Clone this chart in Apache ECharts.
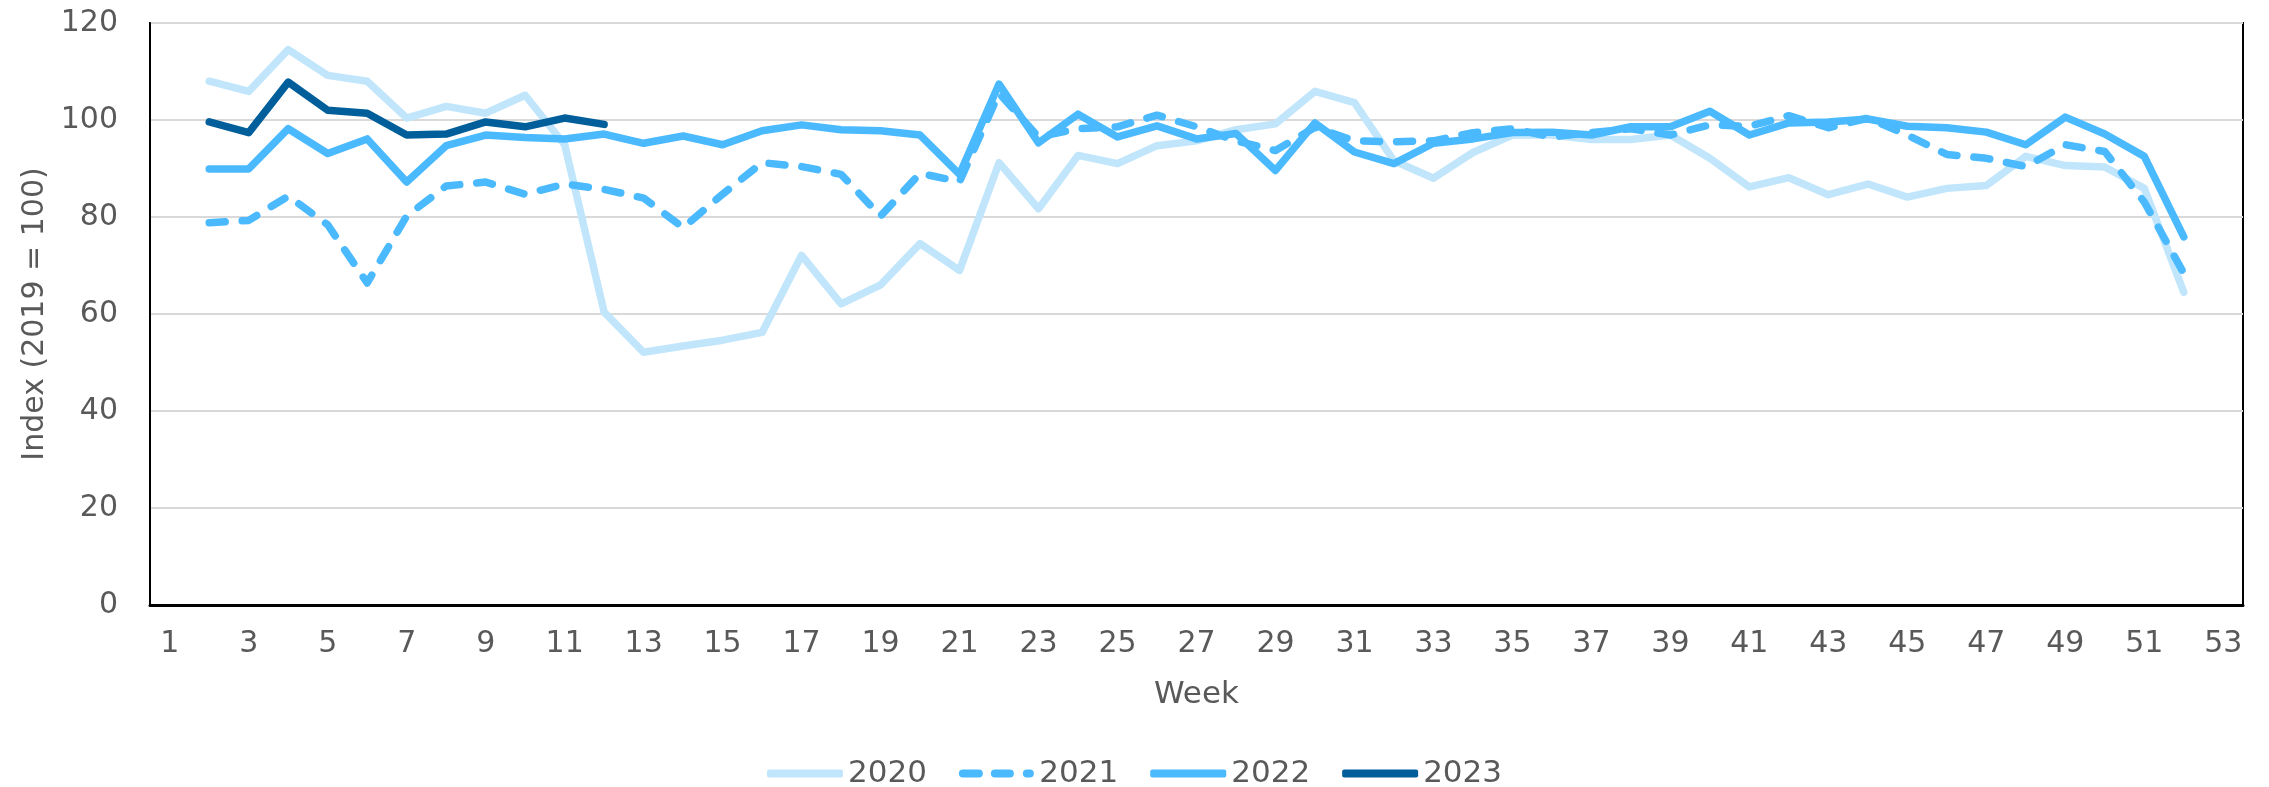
<!DOCTYPE html>
<html>
<head>
<meta charset="utf-8">
<style>
  html, body { margin: 0; padding: 0; background: #fff; }
  #main { width: 2269px; height: 787px; }
</style>
<script src="https://cdn.jsdelivr.net/npm/echarts@6/dist/echarts.min.js"></script>
</head>
<body>
<div id="main"></div>
<script>
// weeks 1..53 on the axis, series start at week 2
var weeks = [];
for (var w = 1; w <= 53; w++) weeks.push(String(w));

var y2020 = [null, 108.0, 105.9, 114.5, 109.2, 108.0, 100.4, 102.8, 101.4, 105.1, 94.9,
  60.4, 52.1, 53.4, 54.6, 56.2, 72.1, 62.1, 66.0, 74.5, 69.0,
  91.2, 81.7, 92.7, 91.0, 94.7, 95.7, 98.0, 99.2, 105.9, 103.6,
  91.6, 88.0, 93.3, 96.9, 96.9, 96.0, 96.0, 96.9, 92.1, 86.2,
  88.1, 84.6, 86.8, 84.1, 85.9, 86.5, 92.5, 90.6, 90.3, 85.9,
  64.5, null];

var y2021 = [null, 78.8, 79.3, 84.3, 78.4, 66.4, 80.2, 86.4, 87.2, 84.7, 86.8,
  85.7, 83.9, 77.8, 84.7, 91.2, 90.4, 88.8, 80.2, 89.0, 87.3,
  105.5, 96.5, 98.2, 98.6, 101.0, 98.6, 95.7, 93.7, 98.5, 95.7,
  95.5, 95.7, 97.4, 98.2, 96.5, 97.4, 98.2, 96.9, 99.0, 98.7,
  100.9, 98.4, 100.4, 96.9, 92.9, 92.1, 90.4, 94.9, 93.5, 83.1,
  68.4, null];

var y2022 = [null, 89.9, 89.9, 98.2, 93.1, 96.1, 87.2, 94.7, 96.9, 96.4, 96.1,
  97.1, 95.2, 96.7, 94.9, 97.8, 99.0, 98.0, 97.8, 96.9, 88.8,
  107.4, 95.3, 101.2, 96.5, 98.8, 96.1, 97.2, 89.6, 99.4, 93.4,
  91.0, 95.2, 96.1, 97.4, 97.5, 96.9, 98.6, 98.6, 101.8, 96.9,
  99.4, 99.6, 100.2, 98.7, 98.4, 97.5, 94.9, 100.6, 97.1, 92.5,
  75.9, null];

var y2023 = [null, 99.6, 97.4, 107.8, 102.0, 101.4, 96.9, 97.1, 99.6, 98.6, 100.4,
  99.1];

var dom = document.getElementById('main');
var myChart = echarts.init(dom, null, {
  renderer: 'canvas',
  useDirtyRect: false
});

var textColor = '#595959';
var font = 'DejaVu Sans';
var dashIcon = 'path://M4,0h16a4,4 0 0 1 0,8h-16a4,4 0 0 1 0,-8z' +
  'M36,0h15a4,4 0 0 1 0,8h-15a4,4 0 0 1 0,-8z' +
  'M68,0h3a4,4 0 0 1 0,8h-3a4,4 0 0 1 0,-8z';

var option;

option = {
  animation: false,
  textStyle: { fontFamily: font, color: textColor },
  grid: {
    left: 150,
    right: 26,
    top: 23,
    bottom: 182,
    show: true,
    borderColor: '#000',
    borderWidth: 2
  },
  legend: {
    left: 'center',
    top: 753,
    itemWidth: 76,
    itemHeight: 8,
    itemGap: 32,
    textStyle: { fontSize: 31, color: textColor, fontFamily: font },
    data: [
      { name: '2020', icon: 'roundRect' },
      { name: '2021', icon: dashIcon },
      { name: '2022', icon: 'roundRect' },
      { name: '2023', icon: 'roundRect' }
    ]
  },
  xAxis: {
    type: 'category',
    data: weeks,
    name: 'Week',
    nameLocation: 'middle',
    nameGap: 74,
    nameTextStyle: { fontSize: 31, color: textColor },
    axisLine: { lineStyle: { color: '#000', width: 3 } },
    axisTick: { interval: 0, length: 10, lineStyle: { color: '#000', width: 2 } },
    axisLabel: { interval: 1, fontSize: 30, color: textColor, margin: 24 },
    splitLine: { show: false }
  },
  yAxis: {
    type: 'value',
    min: 0,
    max: 120,
    interval: 20,
    name: 'Index (2019 = 100)',
    nameLocation: 'middle',
    nameGap: 100,
    nameTextStyle: { fontSize: 30, color: textColor },
    axisLine: { show: true, lineStyle: { color: '#000', width: 2 } },
    axisTick: { show: false },
    axisLabel: { fontSize: 30, color: textColor, margin: 32 },
    splitLine: { lineStyle: { color: '#D9D9D9', width: 2 } }
  },
  series: [
    {
      name: '2020',
      type: 'line',
      data: y2020,
      symbol: 'none',
      color: '#C1E6FC',
      lineStyle: { width: 7.5, color: '#C1E6FC', cap: 'round', join: 'round' }
    },
    {
      name: '2021',
      type: 'line',
      data: y2021,
      symbol: 'none',
      color: '#4AB9FE',
      lineStyle: { width: 7.5, color: '#4AB9FE', type: [16, 17], cap: 'round', join: 'round' }
    },
    {
      name: '2022',
      type: 'line',
      data: y2022,
      symbol: 'none',
      color: '#4AB9FE',
      lineStyle: { width: 7.5, color: '#4AB9FE', cap: 'round', join: 'round' }
    },
    {
      name: '2023',
      type: 'line',
      data: y2023,
      symbol: 'none',
      color: '#005F9A',
      lineStyle: { width: 7.5, color: '#005F9A', cap: 'round', join: 'round' }
    }
  ]
};

if (option && typeof option === 'object') {
  myChart.setOption(option);
}

window.addEventListener('resize', myChart.resize);
</script>
</body>
</html>
